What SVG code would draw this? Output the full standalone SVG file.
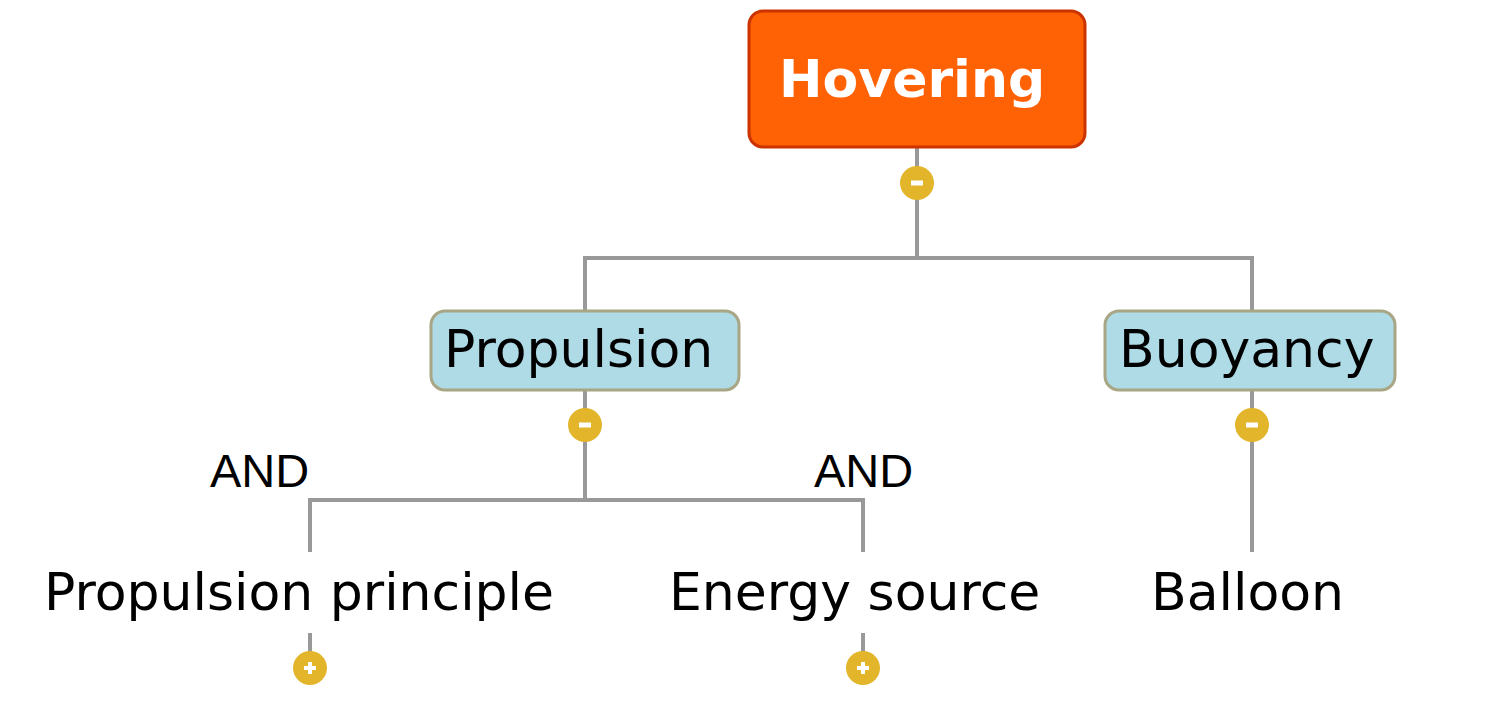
<svg xmlns="http://www.w3.org/2000/svg" width="1488" height="705" viewBox="0 0 1488 705">
<style>
.ln{fill:none;stroke:#999999;stroke-width:4}
.root{fill:#FF6105;stroke:#CC3300;stroke-width:3}
.sub{fill:#AEDBE6;stroke:#A8A684;stroke-width:3}
.t{font-family:"DejaVu Sans",Verdana,sans-serif;font-size:52px;fill:#000}
.tb{font-family:"DejaVu Sans",Verdana,sans-serif;font-size:52px;font-weight:bold;fill:#fff}
.and{font-family:"Liberation Sans",Arial,sans-serif;font-size:47px;fill:#000}
.btn{fill:#E3B52B}
.sym{fill:#fff}
</style>
<defs>
<g id="minus"><circle r="17" class="btn"/><rect x="-6" y="-2.5" width="12" height="5" class="sym"/></g>
<g id="plus"><circle r="17" class="btn"/><rect x="-6" y="-2" width="12" height="4" class="sym"/><rect x="-2" y="-6" width="4" height="12" class="sym"/></g>
</defs>
<g id="connectors">
<path class="ln" d="M917,147 V258 M585,311 V258 H1252 V311"/>
<path class="ln" d="M585,390 V500 M310,552 V500 H863 V552"/>
<path class="ln" d="M1252,390 V552"/>
<path class="ln" d="M310,633 V660 M863,633 V660"/>
</g>
<g id="hovering">
<rect class="root" x="749" y="11" width="336" height="136" rx="14"/>
<text class="tb" x="779" y="97">Hovering</text>
<use href="#minus" x="917" y="183"/>
</g>
<g id="propulsion">
<rect class="sub" x="431" y="311" width="308" height="79" rx="14"/>
<text class="t" x="444" y="367">Propulsion</text>
<use href="#minus" x="585" y="425"/>
</g>
<g id="buoyancy">
<rect class="sub" x="1105" y="311" width="290" height="79" rx="14"/>
<text class="t" x="1119" y="367">Buoyancy</text>
<use href="#minus" x="1252" y="425"/>
</g>
<g id="and-left"><text class="and" x="210" y="487">AND</text></g>
<g id="and-right"><text class="and" x="814" y="487">AND</text></g>
<g id="propulsion-principle">
<text class="t" x="44" y="610">Propulsion principle</text>
<use href="#plus" x="310" y="668"/>
</g>
<g id="energy-source">
<text class="t" x="669" y="610">Energy source</text>
<use href="#plus" x="863" y="668"/>
</g>
<g id="balloon">
<text class="t" x="1151" y="610">Balloon</text>
</g>
</svg>
